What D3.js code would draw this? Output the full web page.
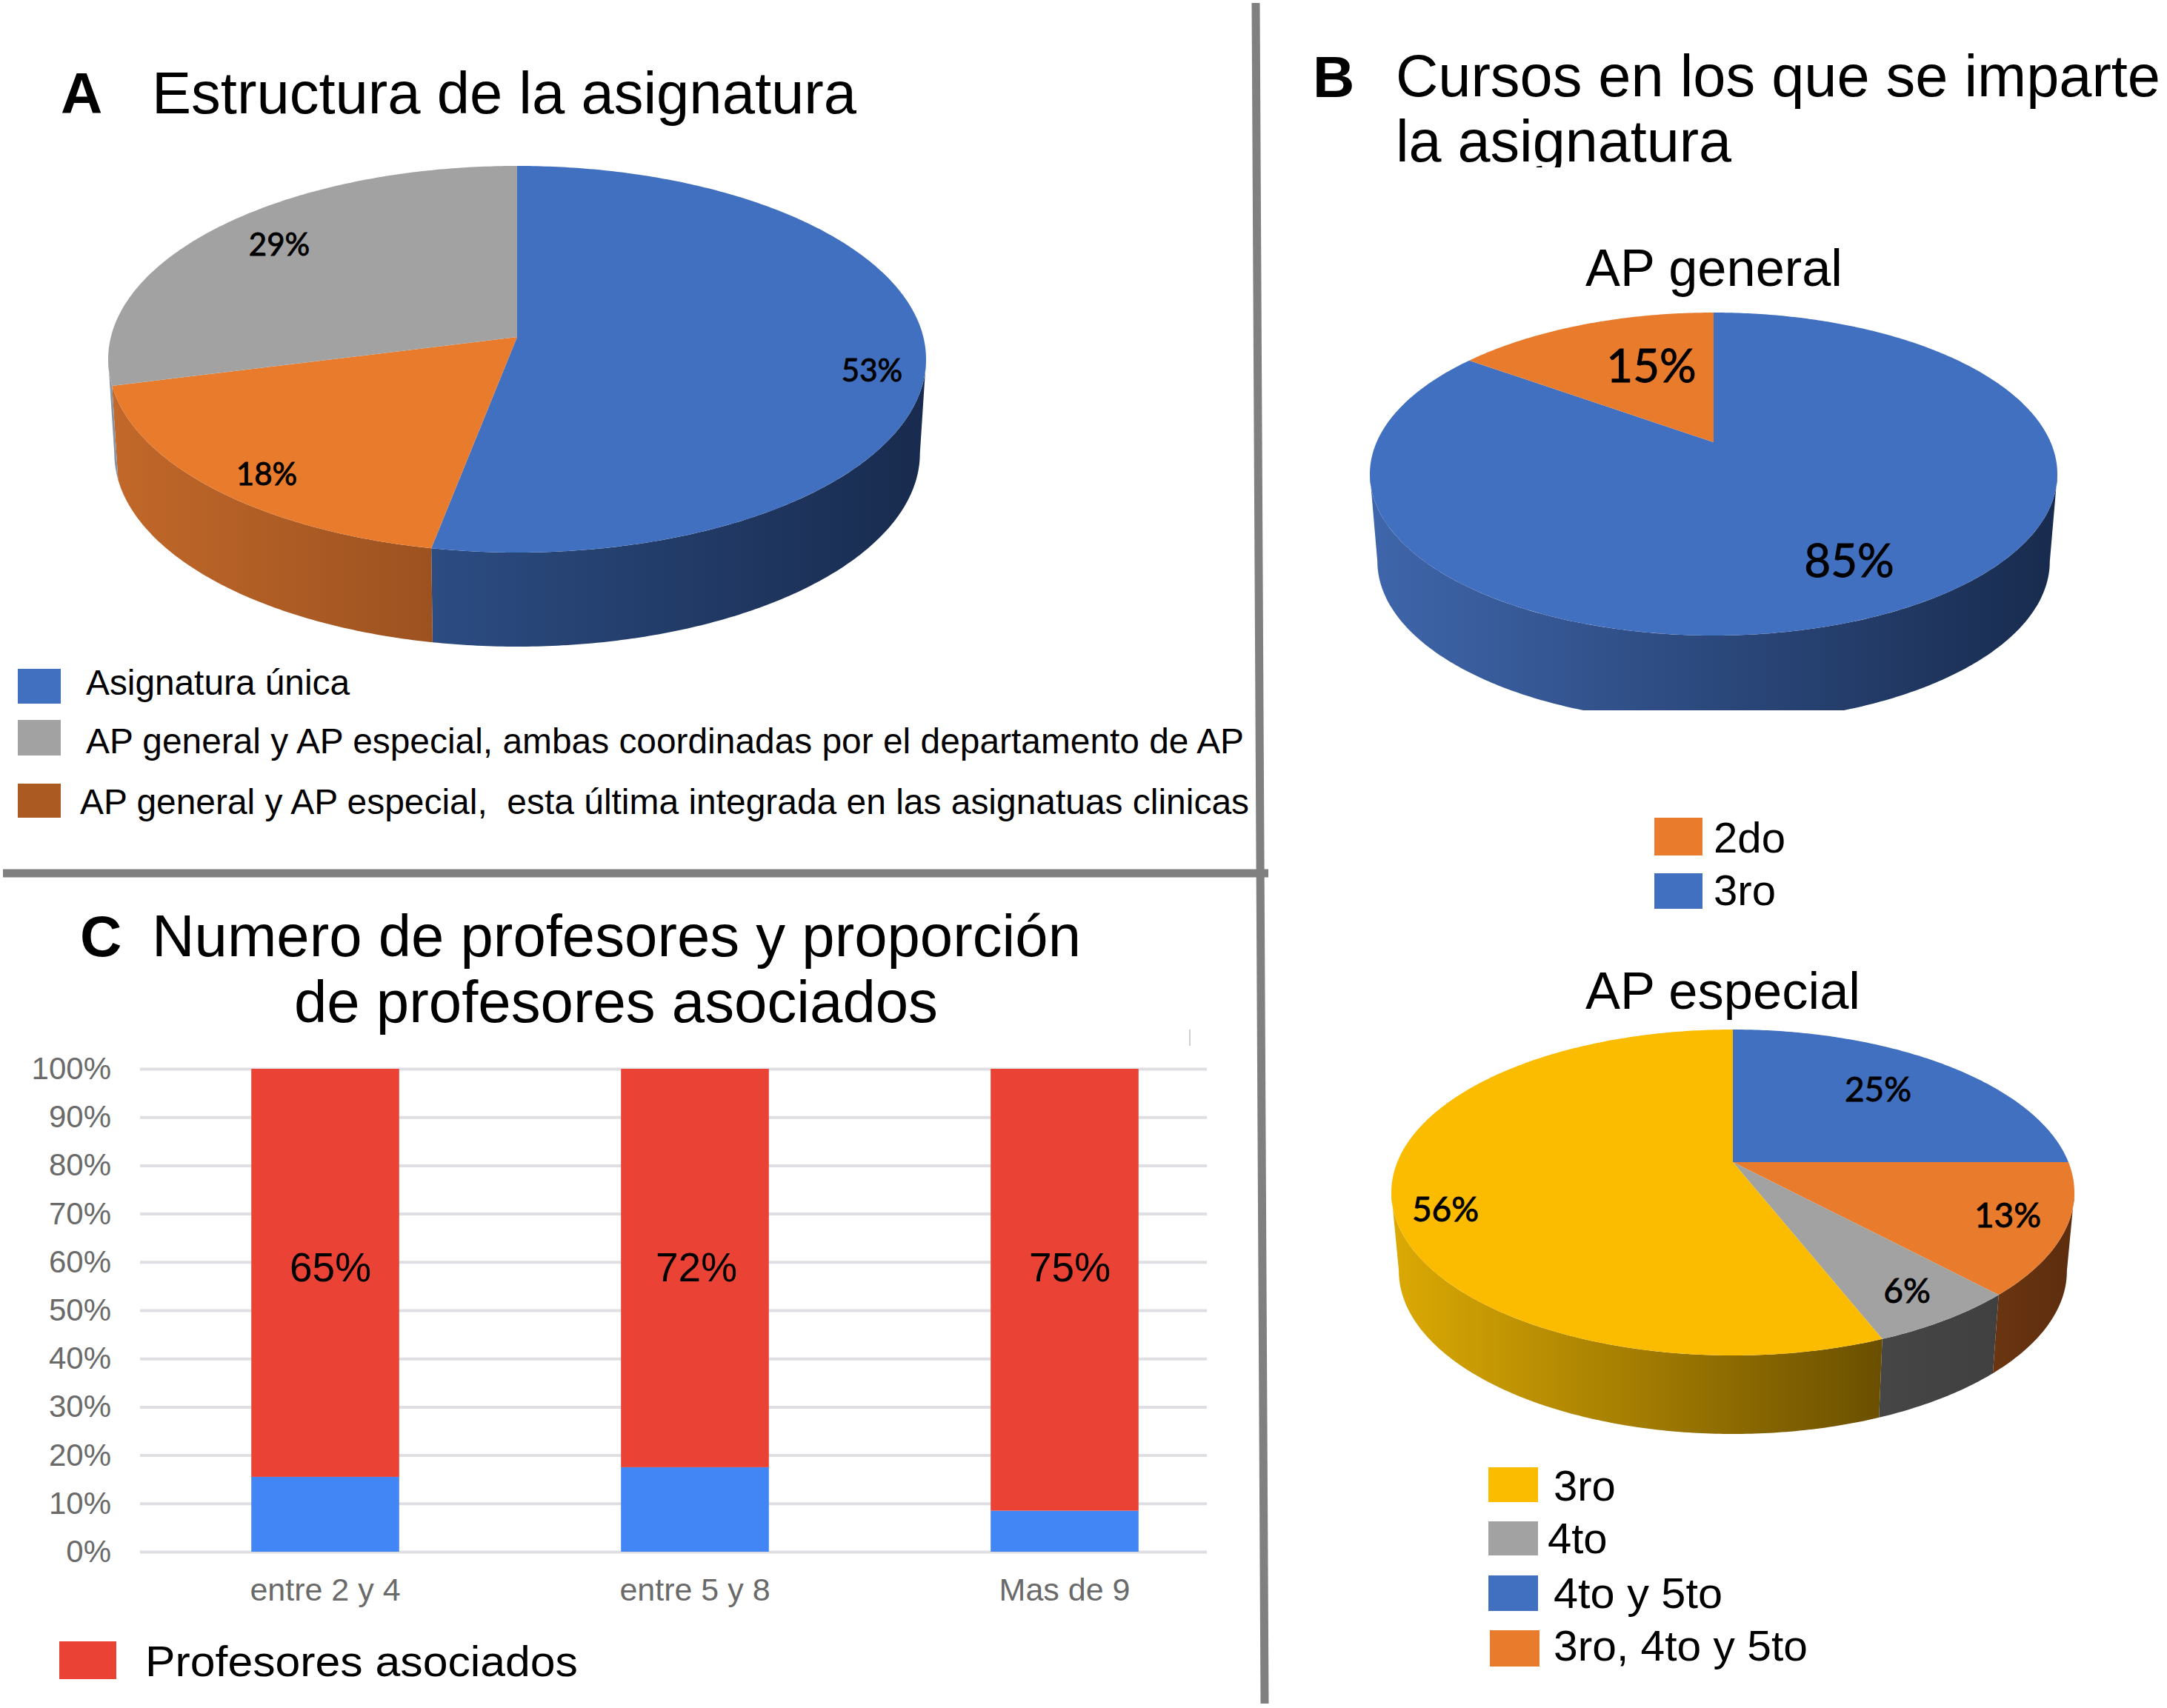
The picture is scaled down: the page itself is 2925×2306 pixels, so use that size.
<!DOCTYPE html>
<html>
<head>
<meta charset="utf-8">
<script src="https://cdn.jsdelivr.net/npm/d3@7"></script>
<style>
body { margin: 0; background: #fff; }
text { font-family: "Liberation Sans", Arial, sans-serif; fill: #000; white-space: pre; }
</style>
</head>
<body>
<div id="chart"></div>
<script>
//panel A
var estructuraNames = ["Asignatura única", "AP general y AP especial,  esta última integrada en las asignatuas clinicas", "AP general y AP especial, ambas coordinadas por el departamento de AP"];
var estructuraValues = [53, 18, 29];
var estructuraColors = ["#4270c0", "#e97b2d", "#a2a2a2"];
var estructuraWalls = [["#2c4c82", "#182b4e"], ["#c2682a", "#9c5220"], ["#8a93a0", "#8a93a0"]];

//panel B, AP general
var generalNames = ["3ro", "2do"];
var generalValues = [85, 15];
var generalColors = ["#4270c0", "#e97b2d"];
var generalWalls = [["#3f66ab", "#182b4e"], ["#c2682a", "#c2682a"]];

//panel B, AP especial
var especialNames = ["4to y 5to", "3ro, 4to y 5to", "4to", "3ro"];
var especialValues = [25, 13, 6, 56];
var especialColors = ["#4270c0", "#e97b2d", "#a2a2a2", "#fbbc00"];
var especialWalls = [["#182b4e", "#182b4e"], ["#6b3511", "#5c2d0e"], ["#464646", "#404040"], ["#dcaa04", "#6a4f00"]];

//panel C
var rangos = ["entre 2 y 4", "entre 5 y 8", "Mas de 9"];
var otrosProfesores = [15.5, 17.5, 8.5];
var profesoresAsociados = [84.5, 82.5, 91.5];
var etiquetasAsociados = ["65%", "72%", "75%"];
var yTicks = [0, 10, 20, 30, 40, 50, 60, 70, 80, 90, 100];

var width = 2925;
var height = 2306;

var svg = d3.select("#chart").append("svg")
    .attr("width", width)
    .attr("height", height)
    .style("display", "block");
var defs = svg.append("defs");

svg.append("rect").attr("width", width).attr("height", height).attr("fill", "#fff");

//text helper, stretches to the measured length when one is given
function addText(x, y, str, size, opts) {
    opts = opts || {};
    var t = svg.append("text")
        .attr("x", x)
        .attr("y", y)
        .attr("font-size", size)
        .attr("font-weight", opts.weight || 400)
        .text(str);
    if (opts.length) {
        t.attr("textLength", opts.length).attr("lengthAdjust", "spacingAndGlyphs");
    }
    if (opts.clip) {
        t.attr("clip-path", "url(#" + opts.clip + ")");
    }
    return t;
}

//perspective pie: the disc is tilted, so the apex sits above the middle of the ellipse
function drawPie(cfg) {
    var pieLayout = d3.pie().sort(null).value(function(d) { return d; });
    var arcs = pieLayout(cfg.values);

    var up = cfg.cy - cfg.top;
    var down = cfg.bottom - cfg.cy;
    var k = (down - up) / (down + up);
    var rz = up * (1 + k);
    var r = cfg.rx * Math.sqrt(1 - k * k);

    // project angle (clockwise from 12 o'clock) to the screen
    function project(a) {
        var w = 1 + k * Math.cos(a);
        return [cfg.cx + r * Math.sin(a) / w, cfg.cy - rz * Math.cos(a) / w];
    }
    function lower(p) {
        return [cfg.cx + (p[0] - cfg.cx) * cfg.shrink, p[1] + cfg.depth];
    }
    function sample(a0, a1) {
        var n = Math.max(2, Math.ceil((a1 - a0) * 90));
        return d3.range(n + 1).map(function(i) {
            return project(a0 + (a1 - a0) * i / n);
        });
    }

    var line = d3.line();
    var front0 = Math.acos(-k);
    var front1 = 2 * Math.PI - front0;

    var clipId = cfg.id + "-clip";
    defs.append("clipPath").attr("id", clipId).append("rect")
        .attr("x", 0).attr("y", 0)
        .attr("width", width).attr("height", cfg.clipBottom || height);

    var g = svg.append("g").attr("class", cfg.id);
    var walls = g.append("g").attr("clip-path", "url(#" + clipId + ")");

    //walls first, only the part of the rim that faces us
    arcs.forEach(function(d, i) {
        var a0 = Math.max(d.startAngle, front0);
        var a1 = Math.min(d.endAngle, front1);
        if (a1 <= a0) {
            return;
        }
        //each wall goes from its left colour to its right colour
        var gradId = cfg.id + "-wall-" + i;
        var grad = defs.append("linearGradient").attr("id", gradId);
        grad.append("stop").attr("offset", "0%").attr("stop-color", cfg.walls[i][0]);
        grad.append("stop").attr("offset", "100%").attr("stop-color", cfg.walls[i][1]);
        var rim = sample(a0, a1);
        var pts = rim.concat(rim.slice().reverse().map(lower));
        walls.append("path")
            .attr("d", line(pts) + "Z")
            .attr("fill", "url(#" + gradId + ")");
    });

    //top of the disc
    g.selectAll("path.slice")
        .data(arcs)
        .enter()
        .append("path")
        .attr("class", "slice")
        .attr("d", function(d) {
            return line([[cfg.cx, cfg.cy]].concat(sample(d.startAngle, d.endAngle))) + "Z";
        })
        .attr("fill", function(d, i) { return cfg.colors[i]; });

    //value labels
    g.selectAll("text.pct")
        .data(arcs)
        .enter()
        .append("text")
        .attr("class", "pct")
        .attr("x", function(d, i) { return cfg.labels[i][0]; })
        .attr("y", function(d, i) { return cfg.labels[i][1]; })
        .attr("dy", "0.36em")
        .attr("text-anchor", "middle")
        .attr("font-size", cfg.labelSize)
        .style("font-family", "Lato, sans-serif")
        .style("stroke", "#000")
        .style("stroke-width", 0.9)
        .text(function(d) { return d.data + "%"; });
}

function drawLegend(rows) {
    rows.forEach(function(row) {
        svg.append("rect")
            .attr("x", row.box[0])
            .attr("y", row.box[1])
            .attr("width", row.box[2])
            .attr("height", row.box[3])
            .attr("fill", row.color);
        addText(row.tx, row.ty, row.name, row.size, { length: row.len });
    });
}

//dividers, the vertical one leans a little in the original
function drawDivider(x1, y1, x2, y2) {
    svg.append("line")
        .attr("x1", x1).attr("y1", y1)
        .attr("x2", x2).attr("y2", y2)
        .attr("stroke", "#808080")
        .attr("stroke-width", 11);
}
drawDivider(1695, 4, 1707, 2300);
drawDivider(4, 1179, 1712, 1179);

//panel A
addText(82, 153, "A", 78, { weight: 700 });
addText(205, 153, "Estructura de la asignatura", 80, { length: 951 });
drawPie({
    id: "estructura", values: estructuraValues, colors: estructuraColors, walls: estructuraWalls,
    cx: 698, cy: 455, rx: 552, top: 224, bottom: 746, depth: 127, shrink: 0.985,
    labels: [[1177, 500], [360, 640], [377, 330]], labelSize: 42
});
drawLegend([
    { name: estructuraNames[0], color: "#4270c0", box: [24, 903, 58, 47], tx: 116, ty: 938, size: 48, len: 356 },
    { name: estructuraNames[2], color: "#a2a2a2", box: [24, 972, 58, 48], tx: 116, ty: 1017, size: 48, len: 1563 },
    { name: estructuraNames[1], color: "#ab5a22", box: [24, 1058, 58, 46], tx: 108, ty: 1099, size: 48, len: 1578 }
]);

//panel B
defs.append("clipPath").attr("id", "title-clip").append("rect")
    .attr("x", 1700).attr("y", 140).attr("width", 1225).attr("height", 86);
addText(1772, 131, "B", 78, { weight: 700 });
addText(1884, 130, "Cursos en los que se imparte", 80, { length: 1032 });
addText(1884, 218, "la asignatura", 80, { length: 453, clip: "title-clip" });

addText(2140, 386, "AP general", 70, { length: 347 });
drawPie({
    id: "general", values: generalValues, colors: generalColors, walls: generalWalls,
    cx: 2313, cy: 597, rx: 464, top: 422, bottom: 858, depth: 118, shrink: 0.978, clipBottom: 959,
    labels: [[2496, 757], [2229, 494]], labelSize: 62
});
drawLegend([
    { name: generalNames[1], color: "#e97b2d", box: [2233, 1104, 65, 51], tx: 2313, ty: 1151, size: 58, len: 97 },
    { name: generalNames[0], color: "#4270c0", box: [2233, 1179, 65, 48], tx: 2313, ty: 1222, size: 58, len: 84 }
]);

addText(2140, 1362, "AP especial", 70, { length: 371 });
drawPie({
    id: "especial", values: especialValues, colors: especialColors, walls: especialWalls,
    cx: 2339, cy: 1569, rx: 461, top: 1390, bottom: 1830, depth: 106, shrink: 0.978,
    labels: [[2535, 1470], [2710, 1640], [2574, 1742], [1951, 1632]], labelSize: 46
});
drawLegend([
    { name: especialNames[3], color: "#fbbc00", box: [2009, 1981, 67, 47], tx: 2097, ty: 2026, size: 58 },
    { name: especialNames[2], color: "#a2a2a2", box: [2009, 2054, 67, 46], tx: 2089, ty: 2097, size: 58 },
    { name: especialNames[0], color: "#4270c0", box: [2009, 2127, 67, 48], tx: 2097, ty: 2171, size: 58, len: 228 },
    { name: especialNames[1], color: "#e97b2d", box: [2011, 2201, 67, 49], tx: 2097, ty: 2242, size: 58, len: 343 }
]);

//panel C
addText(108, 1291, "C", 78, { weight: 700 });
addText(205, 1291, "Numero de profesores y proporción", 80, { length: 1254 });
addText(397, 1380, "de profesores asociados", 80, { length: 869 });

var y = d3.scaleLinear().domain([0, 100]).range([2095, 1443]);
var x = d3.scaleBand().domain(rangos).range([189.5, 1686.5]).paddingInner(0.6).paddingOuter(0.3);

var yAxis = d3.axisLeft(y)
    .tickValues(yTicks)
    .tickFormat(function(d) { return d + "%"; })
    .tickSize(-(1629 - 189))
    .tickPadding(39);
var yG = svg.append("g").attr("transform", "translate(189,0)").call(yAxis);
yG.select(".domain").remove();
yG.selectAll("line").attr("stroke", "#dfdfe3").attr("stroke-width", 4);
yG.selectAll("text")
    .attr("font-size", 42)
    .style("font-family", "\"Liberation Sans\", Arial, sans-serif")
    .style("fill", "#6a6a6a");

var xAxis = d3.axisBottom(x).tickSize(0).tickPadding(35);
var xG = svg.append("g").attr("transform", "translate(0,2095)").call(xAxis);
xG.select(".domain").remove();
xG.selectAll("text")
    .attr("font-size", 43)
    .style("font-family", "\"Liberation Sans\", Arial, sans-serif")
    .style("fill", "#6a6a6a");

svg.selectAll("rect.otros")
    .data(rangos)
    .enter()
    .append("rect")
    .attr("class", "otros")
    .attr("x", function(d) { return x(d); })
    .attr("width", x.bandwidth())
    .attr("y", function(d, i) { return y(otrosProfesores[i]); })
    .attr("height", function(d, i) { return y(0) - y(otrosProfesores[i]); })
    .attr("fill", "#4285f4");

svg.selectAll("rect.asociados")
    .data(rangos)
    .enter()
    .append("rect")
    .attr("class", "asociados")
    .attr("x", function(d) { return x(d); })
    .attr("width", x.bandwidth())
    .attr("y", function(d, i) { return y(otrosProfesores[i] + profesoresAsociados[i]); })
    .attr("height", function(d, i) { return y(otrosProfesores[i]) - y(otrosProfesores[i] + profesoresAsociados[i]); })
    .attr("fill", "#ea4335");

//the percent labels are a little off the bar centres in the original
var labelShift = [7, 2, 7];
svg.selectAll("text.asociadoPct")
    .data(etiquetasAsociados)
    .enter()
    .append("text")
    .attr("class", "asociadoPct")
    .attr("x", function(d, i) { return x(rangos[i]) + x.bandwidth() / 2 + labelShift[i]; })
    .attr("y", y(59))
    .attr("dy", "0.36em")
    .attr("text-anchor", "middle")
    .attr("font-size", 55)
    .text(function(d) { return d; });

//stray tick left over in the top right of the plot
svg.append("line")
    .attr("x1", 1606).attr("y1", 1390)
    .attr("x2", 1606).attr("y2", 1412)
    .attr("stroke", "#d0d0d0")
    .attr("stroke-width", 2);

drawLegend([
    { name: "Profesores asociados", color: "#ea4335", box: [80, 2216, 77, 51], tx: 196, ty: 2263, size: 58, len: 584 }
]);
</script>
</body>
</html>
